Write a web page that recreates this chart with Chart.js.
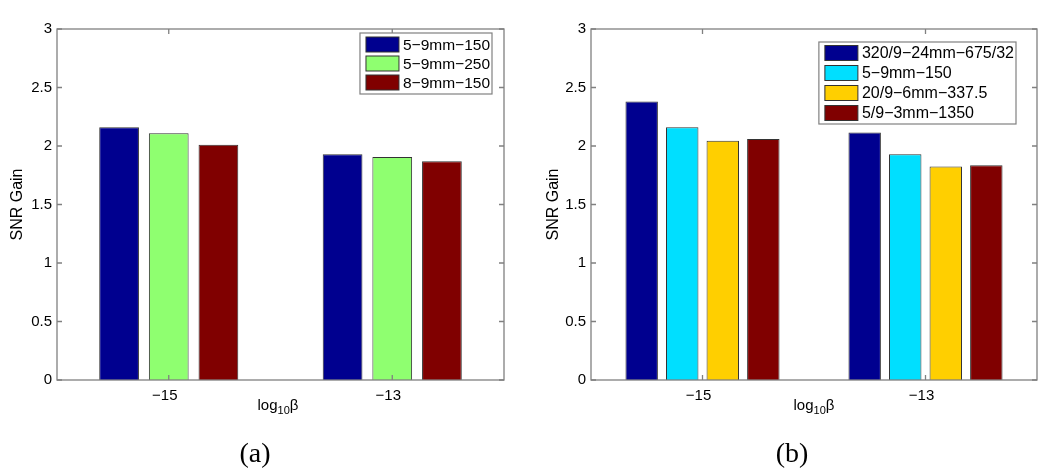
<!DOCTYPE html>
<html>
<head>
<meta charset="utf-8">
<script src="https://cdn.jsdelivr.net/npm/chart.js@4.4.1/dist/chart.umd.min.js"></script>
<style>
  html, body { margin: 0; padding: 0; background: #fff; }
  #wrap { position: relative; width: 1050px; height: 475px; overflow: hidden; font-family: "Liberation Sans", Arial, sans-serif; }
  .cv { position: absolute; top: 0; }
  .xl { position: absolute; font-size: 15px; line-height: 15px; transform: translateX(-50%); white-space: nowrap; color: #000; }
  .xl sub { font-size: 11px; vertical-align: -4px; line-height: 0; }
  .cap { position: absolute; font-family: "Liberation Serif", "DejaVu Serif", serif; font-size: 28px; line-height: 28px; transform: translateX(-50%); color: #000; }
</style>
</head>
<body>
<div id="wrap">
  <canvas id="ca" class="cv" width="525" height="475" style="left:0px"></canvas>
  <canvas id="cb" class="cv" width="525" height="475" style="left:525px"></canvas>
  <div class="xl" style="left:278px; top:397px">log<sub>10</sub>β</div>
  <div class="xl" style="left:814px; top:397px">log<sub>10</sub>β</div>
  <div class="cap" style="left:255px; top:439px">(a)</div>
  <div class="cap" style="left:792px; top:439px">(b)</div>
</div>
<script>
// ---- data ----
const categories = ['\u221215', '\u221213'];
const yTickValues = [0, 0.5, 1, 1.5, 2, 2.5, 3];
const yTickLabels = ['0', '0.5', '1', '1.5', '2', '2.5', '3'];
const yLabel = 'SNR Gain';

const seriesA = ['5\u22129mm\u2212150', '5\u22129mm\u2212250', '8\u22129mm\u2212150'];
const a_5_9_150 = [2.16, 1.93];
const a_5_9_250 = [2.11, 1.905];
const a_8_9_150 = [2.01, 1.87];
const colorsA = ['#00008F', '#8FFF70', '#800000'];

const seriesB = ['320/9\u221224mm\u2212675/32', '5\u22129mm\u2212150', '20/9\u22126mm\u2212337.5', '5/9\u22123mm\u22121350'];
const b_320_9 = [2.38, 2.115];
const b_5_9 = [2.16, 1.93];
const b_20_9 = [2.045, 1.825];
const b_5_9_3 = [2.06, 1.835];
const colorsB = ['#00008F', '#00DFFF', '#FFCF00', '#800000'];

// ---- plugin: matlab-like frame, inward ticks, legend inside ----
const matlabPlugin = {
  id: 'matlab',
  afterDraw(chart, args, opts) {
    const ctx = chart.ctx;
    const a = chart.chartArea;
    const ys = chart.scales.y, xs = chart.scales.x;
    ctx.save();
    ctx.strokeStyle = '#808080';
    ctx.lineWidth = 1.3;
    ctx.strokeRect(a.left, a.top, a.right - a.left, a.bottom - a.top);
    const tl = 5;
    ctx.beginPath();
    yTickValues.forEach(v => {
      const y = ys.getPixelForValue(v);
      ctx.moveTo(a.left, y); ctx.lineTo(a.left + tl, y);
      ctx.moveTo(a.right, y); ctx.lineTo(a.right - tl, y);
    });
    categories.forEach((c, i) => {
      const x = xs.getPixelForValue(i);
      ctx.moveTo(x, a.bottom); ctx.lineTo(x, a.bottom - tl);
      ctx.moveTo(x, a.top); ctx.lineTo(x, a.top + tl);
    });
    ctx.stroke();

    // legend
    const ds = chart.data.datasets;
    ctx.font = opts.fontSize + 'px "Liberation Sans", Arial, sans-serif';
    let maxW = 0;
    ds.forEach(d => { maxW = Math.max(maxW, ctx.measureText(d.label).width); });
    const sw = 33, sh = 15, padL = 6, gap = 4;
    const bw = padL + sw + gap + maxW + 2;
    const bh = opts.rowH * ds.length + opts.padV * 2;
    const bx = a.right - opts.insetRight - bw;
    const by = a.top + opts.insetTop;
    ctx.fillStyle = '#fff';
    ctx.fillRect(bx, by, bw, bh);
    ctx.strokeStyle = '#808080';
    ctx.lineWidth = 1.2;
    ctx.strokeRect(bx, by, bw, bh);
    ds.forEach((d, i) => {
      const cy = by + opts.padV + opts.rowH * (i + 0.5);
      ctx.fillStyle = d.backgroundColor;
      ctx.fillRect(bx + padL, cy - sh / 2, sw, sh);
      ctx.strokeStyle = '#333';
      ctx.lineWidth = 1;
      ctx.strokeRect(bx + padL, cy - sh / 2, sw, sh);
      ctx.fillStyle = '#000';
      ctx.textBaseline = 'middle';
      ctx.textAlign = 'left';
      ctx.fillText(d.label, bx + padL + sw + gap, cy + 1);
    });
    ctx.restore();
  }
};

function makeChart(id, labels, valueSets, colors, catPct, yWidth, padRight, titlePad, legendOpts) {
  const datasets = valueSets.map((vals, i) => ({
    label: labels[i],
    data: vals,
    backgroundColor: colors[i],
    borderColor: '#333',
    borderWidth: 1,
    categoryPercentage: catPct,
    barPercentage: 0.8
  }));
  return new Chart(document.getElementById(id), {
    type: 'bar',
    data: { labels: categories, datasets },
    options: {
      responsive: false,
      animation: false,
      devicePixelRatio: 1,
      layout: { padding: { left: 0, top: 29, right: padRight, bottom: 65 } },
      plugins: { legend: { display: false }, tooltip: { enabled: false }, matlab: legendOpts },
      scales: {
        x: {
          grid: { display: false, drawTicks: false },
          border: { display: false },
          ticks: { color: '#000', font: { family: '"Liberation Sans", Arial, sans-serif', size: 15 }, padding: 7, labelOffset: -4 },
          afterFit(s) { s.height = 30; }
        },
        y: {
          min: 0, max: 3,
          grid: { display: false, drawTicks: false },
          border: { display: false },
          afterBuildTicks(s) { s.ticks = yTickValues.map(v => ({ value: v })); },
          ticks: {
            color: '#000', font: { family: '"Liberation Sans", Arial, sans-serif', size: 15 }, padding: 5,
            callback: (v) => { const i = yTickValues.indexOf(v); return i >= 0 ? yTickLabels[i] : ''; }
          },
          title: { display: true, text: yLabel, color: '#000', font: { family: '"Liberation Sans", Arial, sans-serif', size: 16 }, padding: { top: titlePad, bottom: 0 } },
          afterFit(s) { s.width = yWidth; }
        }
      }
    },
    plugins: [matlabPlugin]
  });
}

makeChart('ca', seriesA, [a_5_9_150, a_5_9_250, a_8_9_150], colorsA, 3 / 4.5, 57, 21, 8.4,
  { fontSize: 15.5, rowH: 19, padV: 2, insetRight: 12, insetTop: 4 });
makeChart('cb', seriesB, [b_320_9, b_5_9, b_20_9, b_5_9_3], colorsB, 4 / 5.5, 66, 13, 19,
  { fontSize: 16, rowH: 20, padV: 1, insetRight: 21, insetTop: 13 });
</script>
</body>
</html>
